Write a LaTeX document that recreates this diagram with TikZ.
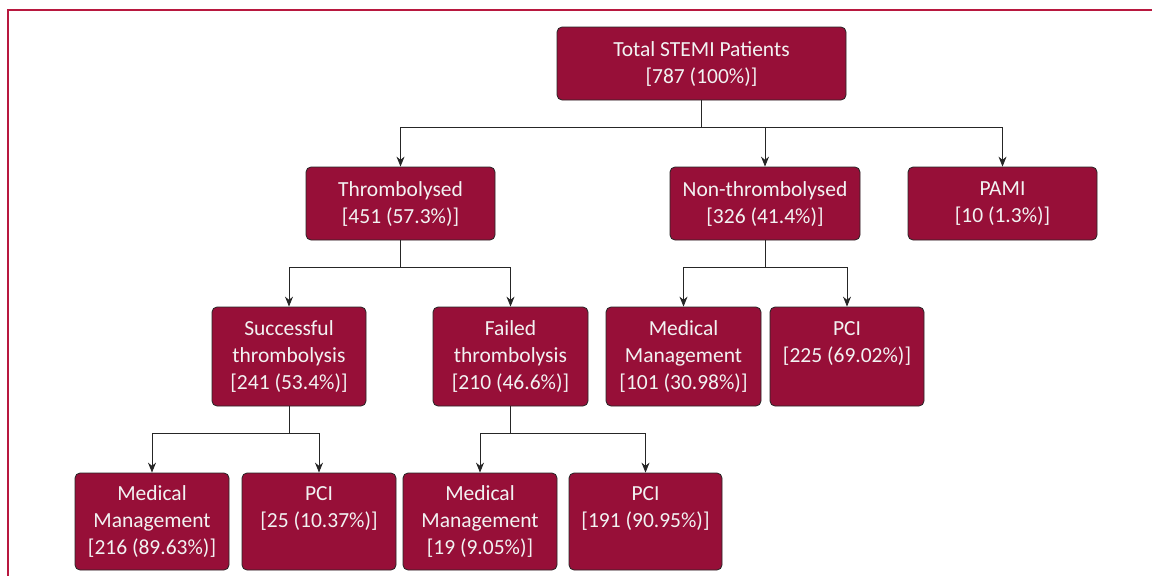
\documentclass[tikz,border=0pt]{standalone}
\usepackage{fontspec}
\setmainfont{Carlito}
\usetikzlibrary{arrows.meta}
\definecolor{boxred}{HTML}{970F38}
\definecolor{framered}{HTML}{B8183F}
\definecolor{txt}{HTML}{F2F2F2}
\begin{document}
\begin{tikzpicture}[x=1pt,y=-1pt,
  box/.style={draw=black!85,line width=0.8pt,fill=boxred,rounded corners=5pt,
    text=txt,align=center,font=\fontsize{21.5}{27}\selectfont,inner sep=0pt,
    text depth=2pt},
  conn/.style={draw=black!85,line width=0.9pt},
  arr/.style={conn,-{Stealth[length=10pt,width=8pt]}}]
\useasboundingbox (0,0) rectangle (1152,576);
\draw[framered,line width=2pt] (8,576) -- (8,10) -- (1152,10);
\node[box,minimum width=289pt,minimum height=73pt] (tot) at (701.5,63.5) {Total STEMI Patients\\\relax[787 (100\%)]};
\node[box,minimum width=189pt,minimum height=73pt] (thr) at (400.5,203.5) {Thrombolysed\\\relax[451 (57.3\%)]};
\node[box,minimum width=190pt,minimum height=73pt] (non) at (765,203.5) {Non-thrombolysed\\\relax[326 (41.4\%)]};
\node[box,minimum width=189pt,minimum height=73pt] (pami) at (1002.5,203.5) {PAMI\\\relax[10 (1.3\%)]};
\node[box,minimum width=154pt,minimum height=99pt] (suc) at (289,356.5) {Successful\\thrombolysis\\\relax[241 (53.4\%)]};
\node[box,minimum width=155pt,minimum height=99pt] (fail) at (510.5,356.5) {Failed\\thrombolysis\\\relax[210 (46.6\%)]};
\node[box,minimum width=155pt,minimum height=99pt] (nmm) at (683.5,356.5) {Medical\\Management\\\relax[101 (30.98\%)]};
\node[box,minimum width=154pt,minimum height=99pt] (npci) at (847,356.5) {PCI\\\relax[225 (69.02\%)]\\\mbox{}};
\node[box,minimum width=154pt,minimum height=97pt] (smm) at (152,521.5) {Medical\\Management\\\relax[216 (89.63\%)]};
\node[box,minimum width=154pt,minimum height=97pt] (spci) at (319,521.5) {PCI\\\relax[25 (10.37\%)]\\\mbox{}};
\node[box,minimum width=154pt,minimum height=97pt] (fmm) at (480,521.5) {Medical\\Management\\\relax[19 (9.05\%)]};
\node[box,minimum width=153pt,minimum height=97pt] (fpci) at (645.5,521.5) {PCI\\\relax[191 (90.95\%)]\\\mbox{}};
% connectors
\coordinate (j1) at (701.5,127);
\draw[conn] (tot.south) -- (j1);
\draw[arr] (j1) -| (thr.north);
\draw[arr] (j1) -| (non.north);
\draw[arr] (j1) -| (pami.north);
\coordinate (j2) at (400.5,267);
\draw[conn] (thr.south) -- (j2);
\draw[arr] (j2) -| (suc.north);
\draw[arr] (j2) -| (fail.north);
\coordinate (j3) at (765,267);
\draw[conn] (non.south) -- (j3);
\draw[arr] (j3) -| (nmm.north);
\draw[arr] (j3) -| (npci.north);
\coordinate (j4) at (289,433);
\draw[conn] (suc.south) -- (j4);
\draw[arr] (j4) -| (smm.north);
\draw[arr] (j4) -| (spci.north);
\coordinate (j5) at (510.5,433);
\draw[conn] (fail.south) -- (j5);
\draw[arr] (j5) -| (fmm.north);
\draw[arr] (j5) -| (fpci.north);
\end{tikzpicture}
\end{document}
